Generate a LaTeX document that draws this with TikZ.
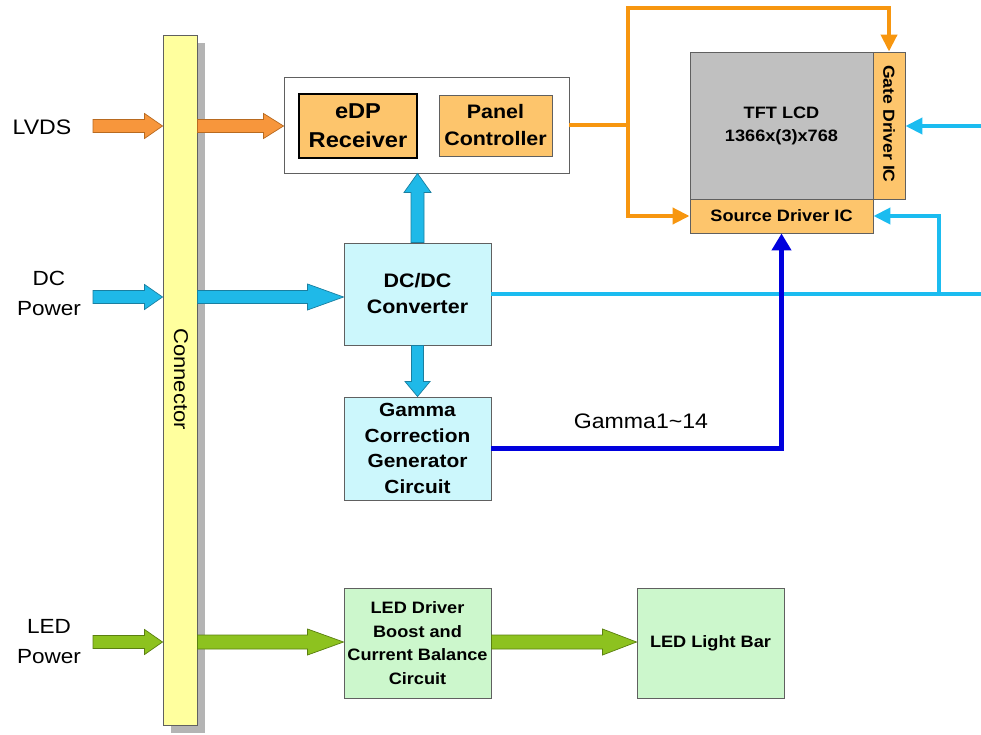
\documentclass[tikz,border=0pt]{standalone}
\usepackage{fontspec}
\setmainfont{Liberation Sans}[FakeStretch=1.1]
\usetikzlibrary{calc,arrows.meta,shadows}

\definecolor{orFill}{HTML}{F7963C}
\definecolor{orDraw}{HTML}{B86A20}
\definecolor{cyFill}{HTML}{1FB9E8}
\definecolor{cyDraw}{HTML}{1A7FA0}
\definecolor{grFill}{HTML}{8DC21F}
\definecolor{grDraw}{HTML}{5A7F10}
\definecolor{connFill}{HTML}{FFFF9E}
\definecolor{boxLine}{HTML}{606060}
\definecolor{shadowGray}{HTML}{B4B4B4}
\definecolor{orBox}{HTML}{FDC56C}
\definecolor{tftGray}{HTML}{C0C0C0}
\definecolor{cyBox}{HTML}{CCF7FC}
\definecolor{grBox}{HTML}{CCF7CC}
\definecolor{oLine}{HTML}{F7960F}
\definecolor{cLine}{HTML}{1BBCF0}
\definecolor{bLine}{HTML}{0000DD}

% fat arrow: #1 style, #2 start, #3 end, #4 body half width, #5 head half width, #6 head length
\newcommand\fatarrow[6]{%
  \coordinate (fatmp) at ($(#3)!#6!(#2)$);
  \draw[#1] ($(#2)!#4!90:(#3)$) -- ($(fatmp)!#4!90:(#3)$) -- ($(fatmp)!#5!90:(#3)$)
    -- (#3) -- ($(fatmp)!#5!-90:(#3)$) -- ($(fatmp)!#4!-90:(#3)$) -- ($(#2)!#4!-90:(#3)$) -- cycle;}

\begin{document}
\begin{tikzpicture}[x=1pt,y=-1pt,
  box/.style={draw=boxLine, line width=0.9pt, inner sep=0pt, align=center, font=\bfseries},
  orfat/.style={fill=orFill, draw=orDraw, line width=0.7pt, line join=miter},
  cyfat/.style={fill=cyFill, draw=cyDraw, line width=0.7pt, line join=miter},
  grfat/.style={fill=grFill, draw=grDraw, line width=0.7pt, line join=miter},
  oline/.style={draw=oLine, line width=4pt},
  cline/.style={draw=cLine, line width=4pt},
  bline/.style={draw=bLine, line width=4.5pt},
  tipo/.style={-{Triangle[length=17pt,width=16pt]}},
  lbl/.style={align=center, inner sep=0pt}
]
\useasboundingbox (0,0) rectangle (981,735);

% Connector bar
\node[box, fill=connFill, draw=boxLine, minimum width=34pt, minimum height=690pt,
      drop shadow={shadow xshift=8pt, shadow yshift=-8pt, fill=shadowGray, opacity=1}]
      (conn) at (180,380) {};
\node[lbl, rotate=-90, font=\fontsize{20}{24}\selectfont] (conntxt) at (181,379) {Connector};

% Controller group
\node[box, fill=white, minimum width=285pt, minimum height=96pt] (ctrl) at (426.5,125) {};
\node[box, fill=orBox, draw=black, line width=1.3pt, minimum width=118pt, minimum height=64pt,
      font=\bfseries\fontsize{21.5}{29}\selectfont] (edp) at (358,126) {eDP\\Receiver};
\node[box, fill=orBox, minimum width=113pt, minimum height=61pt,
      font=\bfseries\fontsize{19.5}{27}\selectfont] (panel) at (495.5,125.5) {Panel\\Controller};

% TFT LCD and drivers
\node[box, fill=tftGray, minimum width=183pt, minimum height=147pt,
      font=\bfseries\fontsize{16.5}{23}\selectfont] (tft) at (781.5,125.5) {TFT LCD\\1366x(3)x768};
\node[box, fill=orBox, minimum width=32pt, minimum height=147pt] (gate) at (889,125.5) {};
\node[lbl, rotate=-90, font=\bfseries\fontsize{16}{19}\selectfont] (gatetxt) at (889,124) {Gate Driver IC};
\node[box, fill=orBox, minimum width=183pt, minimum height=34pt,
      font=\bfseries\fontsize{16.5}{19}\selectfont] (source) at (781.5,216) {Source Driver IC};

% Power boxes
\node[box, fill=cyBox, minimum width=147pt, minimum height=102pt,
      font=\bfseries\fontsize{19.5}{26}\selectfont] (dcdc) at (417.5,294) {DC/DC\\Converter};
\node[box, fill=cyBox, minimum width=147pt, minimum height=103pt,
      font=\bfseries\fontsize{19}{25.5}\selectfont] (gamma) at (417.5,448.5) {Gamma\\Correction\\Generator\\Circuit};
\node[box, fill=grBox, minimum width=147pt, minimum height=110pt,
      font=\bfseries\fontsize{16.5}{23.5}\selectfont] (leddrv) at (417.5,643) {LED Driver\\Boost and\\Current Balance\\Circuit};
\node[box, fill=grBox, minimum width=147pt, minimum height=110pt,
      font=\bfseries\fontsize{16.5}{20}\selectfont] (ledbar) at (710.5,643) {LED Light Bar};

% Input labels
\node[lbl, font=\fontsize{21}{25}\selectfont] (lvds) at (42,127) {LVDS};
\node[lbl, font=\fontsize{20.5}{30}\selectfont] (dcp) at (49,293) {DC\\Power};
\node[lbl, font=\fontsize{20.5}{30}\selectfont] (ledp) at (49,642) {LED\\Power};
\node[lbl, font=\fontsize{21}{25}\selectfont] (gtxt) at (641,421) {Gamma1\textasciitilde 14};

% Arrow end points
\coordinate (lvA) at (93,126);
\coordinate (lvB) at (lvA -| conn.west);
\coordinate (lvC) at (lvA -| conn.east);
\coordinate (lvD) at (lvA -| ctrl.west);
\coordinate (dcA) at (93,297);
\coordinate (dcB) at (dcA -| conn.west);
\coordinate (dcC) at (dcA -| conn.east);
\coordinate (dcD) at (dcA -| dcdc.west);
\coordinate (upA) at (dcdc.north);
\coordinate (upB) at (dcdc.north |- ctrl.south);
\coordinate (dnA) at (dcdc.south);
\coordinate (dnB) at (gamma.north);
\coordinate (ldA) at (93,642);
\coordinate (ldB) at (ldA -| conn.west);
\coordinate (ldC) at (ldA -| conn.east);
\coordinate (ldD) at (ldA -| leddrv.west);
\coordinate (lbA) at (ldA -| leddrv.east);
\coordinate (lbB) at (ldA -| ledbar.west);

% Fat arrows
\fatarrow{orfat}{lvA}{lvB}{6.5pt}{12.5pt}{18pt}
\fatarrow{orfat}{lvC}{lvD}{6.5pt}{12.5pt}{20pt}
\fatarrow{cyfat}{dcA}{dcB}{6.5pt}{12.5pt}{18pt}
\fatarrow{cyfat}{dcC}{dcD}{6.5pt}{13pt}{36pt}
\fatarrow{cyfat}{upA}{upB}{6.5pt}{13.5pt}{19pt}
\fatarrow{cyfat}{dnA}{dnB}{6pt}{12.5pt}{15pt}
\fatarrow{grfat}{ldA}{ldB}{6.5pt}{12.5pt}{18pt}
\fatarrow{grfat}{ldC}{ldD}{7pt}{13pt}{36pt}
\fatarrow{grfat}{lbA}{lbB}{7pt}{13pt}{34pt}

% Orange signal lines
\coordinate (otop) at (628,8);
\coordinate (osplit) at (ctrl.east -| otop);
\draw[oline] (ctrl.east) -- (osplit);
\draw[oline, tipo] (osplit) |- (source.west);
\draw[oline, tipo] (osplit) -- (otop) -| (gate.north);

% Cyan power lines
\coordinate (cr1) at (981,126);
\coordinate (cr2) at (981,294);
\coordinate (cbr) at (939,294);
\draw[cline, tipo] (cr1) -- (cr1 -| gate.east);
\draw[cline] (dcdc.east) -- (cr2);
\draw[cline, tipo] (cbr) |- (source.east);

% Gamma line
\draw[bline, -{Triangle[length=17pt,width=19pt]}] (gamma.east) -| (source.south);
\end{tikzpicture}
\end{document}
